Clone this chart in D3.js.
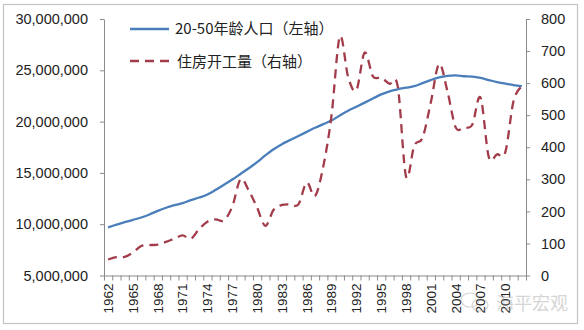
<!DOCTYPE html>
<html><head><meta charset="utf-8">
<script src="https://cdn.jsdelivr.net/npm/d3@7"></script>
<style>
html,body{margin:0;padding:0;background:#fff;}
svg{display:block;}
</style></head>
<body>
<svg id="chart" width="584" height="330"></svg>
<script>
const years = d3.range(1962, 2013).map(String);
const labelYears = ["1962","1965","1968","1971","1974","1977","1980","1983","1986","1989","1992","1995","1998","2001","2004","2007","2010"];
// 20-50 age population (left axis)
const population = [
  9.70e6, 9.95e6, 10.20e6, 10.42e6, 10.65e6, 10.95e6, 11.30e6, 11.60e6, 11.85e6, 12.05e6,
  12.35e6, 12.60e6, 12.90e6, 13.35e6, 13.85e6, 14.35e6, 14.90e6, 15.45e6, 16.05e6, 16.70e6,
  17.30e6, 17.80e6, 18.20e6, 18.60e6, 19.00e6, 19.40e6, 19.75e6, 20.10e6, 20.60e6, 21.05e6,
  21.45e6, 21.85e6, 22.25e6, 22.65e6, 22.95e6, 23.15e6, 23.30e6, 23.45e6, 23.75e6, 24.05e6,
  24.30e6, 24.45e6, 24.50e6, 24.42e6, 24.38e6, 24.25e6, 24.05e6, 23.85e6, 23.70e6, 23.55e6,
  23.45e6
];
// housing starts (right axis)
const housing = [
  50, 57, 58, 72, 92, 95, 96, 105, 115, 125,
  115, 145, 168, 175, 172, 215, 300, 265, 212, 155,
  205, 220, 222, 222, 290, 248, 340, 500, 745, 620,
  578, 695, 621, 617, 598, 590, 309, 405, 430, 540,
  660, 575, 462, 462, 470, 555, 370, 378, 385, 545,
  590
];
const leftTicks = [5e6, 10e6, 15e6, 20e6, 25e6, 30e6];
const rightTicks = [0, 100, 200, 300, 400, 500, 600, 700, 800];
const seriesNames = ["20-50年龄人口（左轴）", "住房开工量（右轴）"];

const svg = d3.select("#chart");
const L = 104, R = 526, T = 19, B = 275.5;
const axisColor = "#8a8a8a";
const blue = "#4A7EBB", red = "#A23C4A";
const numFont = "'Liberation Sans', Arial, sans-serif";
const cjkFont = "'Noto Sans CJK SC', sans-serif";

// outer frame
svg.append("rect").attr("x", 3.5).attr("y", 4.5).attr("width", 574).attr("height", 319)
  .attr("fill", "#fff").attr("stroke", "#c4c4c4").attr("stroke-width", 1.2);

const x = d3.scaleBand().domain(years).range([L, R]).padding(0);
const xc = d => x(d) + x.bandwidth() / 2;
const yL = d3.scaleLinear().domain([5e6, 30e6]).range([B, T]);
const yR = d3.scaleLinear().domain([0, 800]).range([B, T]);

// left axis
const gL = svg.append("g").attr("transform", `translate(${L},0)`)
  .call(d3.axisLeft(yL).tickValues(leftTicks).tickFormat(d3.format(",")).tickSize(4).tickSizeOuter(0).tickPadding(12));
gL.select(".domain").attr("stroke", axisColor);
gL.selectAll(".tick line").attr("stroke", axisColor);
gL.selectAll("text").attr("font-family", numFont).attr("font-size", 14.5).attr("fill", "#222");

// right axis
const gR = svg.append("g").attr("transform", `translate(${R},0)`)
  .call(d3.axisRight(yR).tickValues(rightTicks).tickSize(4).tickSizeOuter(0).tickPadding(11));
gR.select(".domain").attr("stroke", axisColor);
gR.selectAll(".tick line").attr("stroke", axisColor);
gR.selectAll("text").attr("font-family", numFont).attr("font-size", 14.5).attr("fill", "#222");

// x axis boundary ticks
const xi = d3.scaleLinear().domain([0, years.length]).range([L, R]);
const gXt = svg.append("g").attr("transform", `translate(0,${B})`)
  .call(d3.axisBottom(xi).tickValues(d3.range(years.length + 1)).tickFormat("").tickSize(5).tickSizeOuter(0));
gXt.select(".domain").attr("stroke", axisColor);
gXt.selectAll(".tick line").attr("stroke", axisColor);

// x labels
const gX = svg.append("g").attr("transform", `translate(0,${B})`)
  .call(d3.axisBottom(x).tickValues(labelYears).tickSize(0));
gX.select(".domain").remove();
gX.selectAll("text")
  .attr("font-family", numFont).attr("font-size", 13.5).attr("fill", "#222")
  .attr("text-anchor", "end")
  .attr("transform", "rotate(-90)")
  .attr("x", -8).attr("y", 0).attr("dy", "0.36em");

// lines
const lineL = d3.line().x((d, i) => xc(years[i])).y(d => yL(d)).curve(d3.curveCatmullRom.alpha(0));
const lineR = d3.line().x((d, i) => xc(years[i])).y(d => yR(d)).curve(d3.curveCatmullRom.alpha(0));

svg.append("path").datum(population).attr("d", lineL)
  .attr("fill", "none").attr("stroke", blue).attr("stroke-width", 2.3);
svg.append("path").datum(housing).attr("d", lineR)
  .attr("fill", "none").attr("stroke", red).attr("stroke-width", 2.3)
  .attr("stroke-dasharray", "9,6");

// legend
const lg = svg.append("g");
lg.append("line").attr("x1", 130).attr("x2", 169).attr("y1", 29).attr("y2", 29)
  .attr("stroke", blue).attr("stroke-width", 2.3);
lg.append("text").attr("x", 175).attr("y", 33.5).text(seriesNames[0])
  .attr("font-family", cjkFont).attr("font-size", 15).attr("fill", "#222");
lg.append("line").attr("x1", 130).attr("x2", 172).attr("y1", 61).attr("y2", 61)
  .attr("stroke", red).attr("stroke-width", 2.3).attr("stroke-dasharray", "9,6");
lg.append("text").attr("x", 177).attr("y", 66.5).text(seriesNames[1])
  .attr("font-family", cjkFont).attr("font-size", 15).attr("fill", "#222");

// watermark
const wm = svg.append("g").attr("opacity", 0.4);
wm.append("ellipse").attr("cx", 470).attr("cy", 300).attr("rx", 9).attr("ry", 7)
  .attr("fill", "none").attr("stroke", "#999").attr("stroke-width", 1.2);
wm.append("ellipse").attr("cx", 480).attr("cy", 305).attr("rx", 8).attr("ry", 6)
  .attr("fill", "none").attr("stroke", "#999").attr("stroke-width", 1.2);
wm.append("text").attr("x", 496).attr("y", 310).text("海平宏观")
  .attr("font-family", cjkFont).attr("font-size", 18).attr("fill", "#999");
</script>
</body></html>
